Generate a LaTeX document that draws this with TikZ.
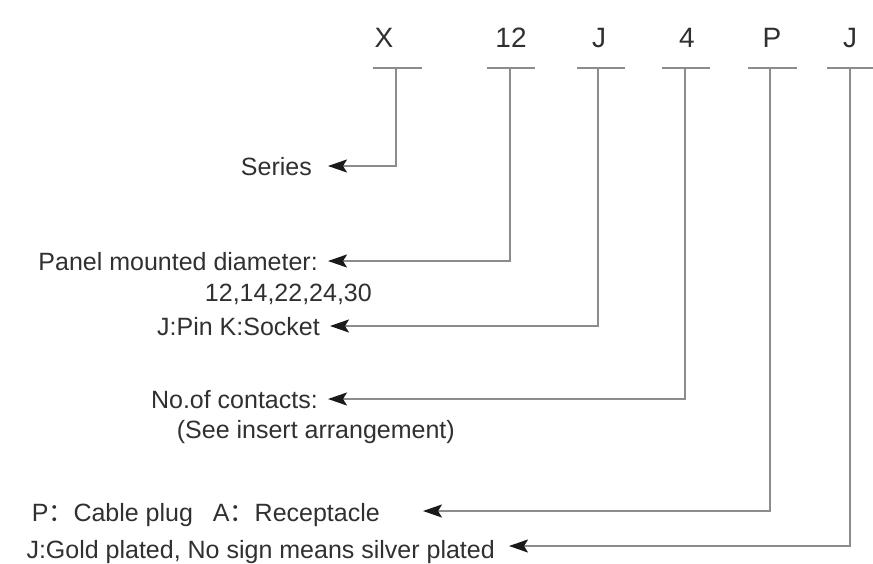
\documentclass[tikz,border=0pt]{standalone}
\usepackage{fontspec}
\setmainfont{Liberation Sans}
\newfontfamily\cjk{Noto Sans CJK SC}
\usetikzlibrary{arrows.meta}
\definecolor{txt}{HTML}{303030}
\definecolor{ln}{HTML}{8C8C8C}
\definecolor{tip}{HTML}{1A1A1A}
\begin{document}
\begin{tikzpicture}[x=1pt,y=-1pt,
  code/.style={font=\fontsize{28}{30}\selectfont, text=txt, inner sep=0pt, text height=20pt, text depth=0pt},
  bar/.style={draw=ln, line width=2.5pt},
  conn/.style={draw=ln, line width=2pt, -{Stealth[length=19pt,width=13pt,inset=4pt,color=tip]}},
  lbl/.style={font=\fontsize{25}{28}\selectfont, text=txt, inner sep=0pt, text height=18pt, text depth=0pt, anchor=east}]
\useasboundingbox (0,0) rectangle (873,563);

% code letters
\node[code] (cX) at (384,37) {X};
\node[code] (c12) at (511,37) {12};
\node[code] (cJ) at (599,37) {J};
\node[code] (c4) at (687,37) {4};
\node[code] (cP) at (772,37) {P};
\node[code] (cJJ) at (850,37) {J};

% bars
\draw[bar] (373,68) -- (422,68);
\draw[bar] (487,68) -- (535,68);
\draw[bar] (577,68) -- (625,68);
\draw[bar] (662,68) -- (710,68);
\draw[bar] (748,68) -- (797,68);
\draw[bar] (827,68) -- (873,68);

\coordinate (vX) at (396,68);
\coordinate (v12) at (510,68);
\coordinate (vJ) at (598,68);
\coordinate (v4) at (685,68);
\coordinate (vP) at (770,68);
\coordinate (vJJ) at (850,68);

% labels
\node[lbl] (series) at (312,166) {Series};
\node[lbl] (panel) at (318,261) {Panel mounted diameter:};
\node[lbl] (panel2) at (372,292) {12,14,22,24,30};
\node[lbl] (pin) at (320,326) {J:Pin K:Socket};
\node[lbl] (cont) at (318,399) {No.of contacts:};
\node[lbl] (cont2) at (455,429) {(See insert arrangement)};
\node[lbl] (plug) at (380,512) {P{\cjk ：}Cable plug\hspace{20pt}A{\cjk ：}Receptacle};
\node[lbl] (gold) at (495,549) {J:Gold plated, No sign means silver plated};

% connectors
\draw[conn] (vX) |- ([xshift=16pt]series.east);
\draw[conn] (v12) |- ([xshift=10pt]panel.east);
\draw[conn] (vJ) |- ([xshift=10pt]pin.east);
\draw[conn] (v4) |- ([xshift=10pt]cont.east);
\draw[conn] (vP) |- ([xshift=43pt,yshift=1pt]plug.east);
\draw[conn] (vJJ) |- ([xshift=14pt,yshift=3pt]gold.east);
\end{tikzpicture}
\end{document}
